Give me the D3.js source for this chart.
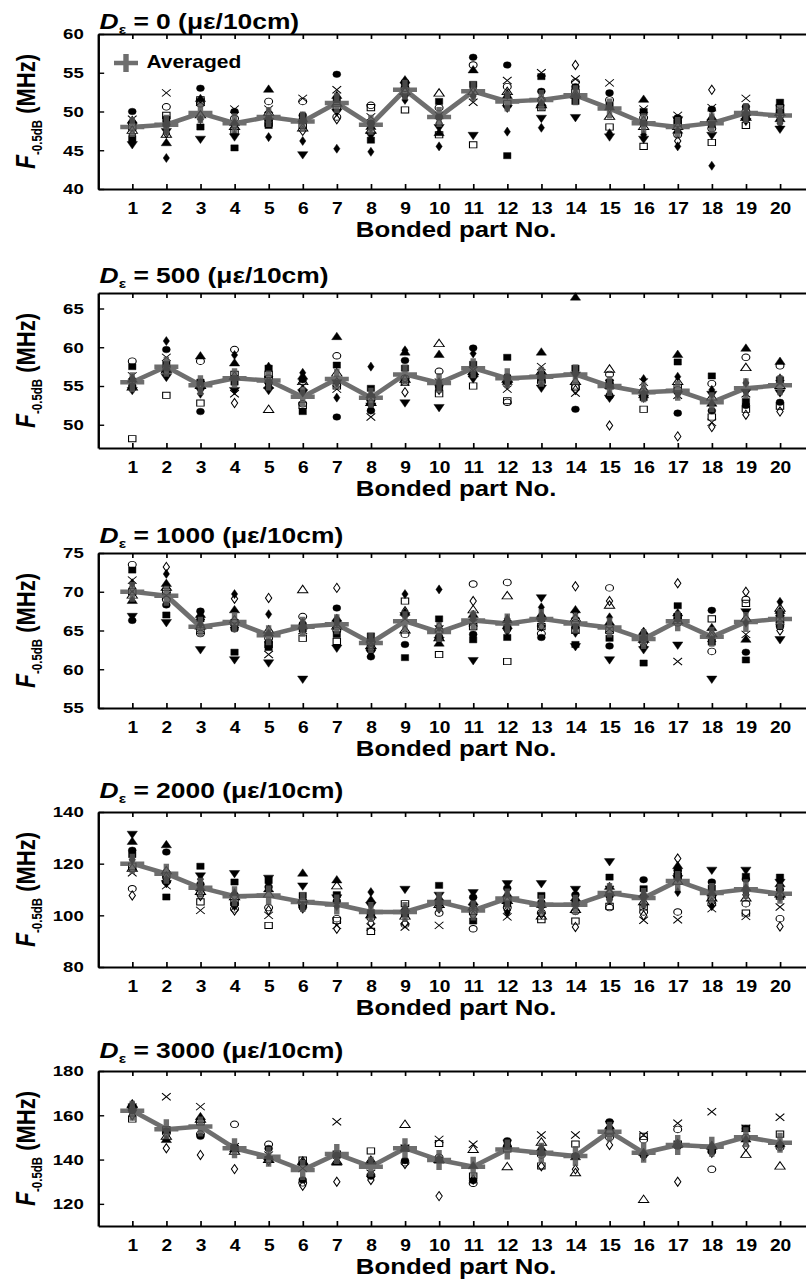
<!DOCTYPE html>
<html>
<head>
<meta charset="utf-8">
<script src="https://cdn.jsdelivr.net/npm/d3@7"></script>
<style>
  html, body { margin: 0; padding: 0; background: #fff; }
  svg { display: block; }
  text { font-family: "Liberation Sans", Arial, sans-serif; font-weight: bold; fill: #000; }
</style>
</head>
<body>
<svg id="chart"></svg>
<script>
// ---- data ----
// bonded part numbers (x categories)
const parts = [1, 2, 3, 4, 5, 6, 7, 8, 9, 10, 11, 12, 13, 14, 15, 16, 17, 18, 19, 20];
// strain level of each panel (με/10cm)
const strains = [0, 500, 1000, 2000, 3000];
// sample marker order of the columns below
const markers = ["filled circle", "open circle", "filled square", "open square", "filled triangle",
                 "open triangle", "filled down triangle", "cross", "filled diamond", "open diamond"];

// y tick labels
const yTicks0 = [40, 45, 50, 55, 60];
const yTicks500 = [50, 55, 60, 65];
const yTicks1000 = [55, 60, 65, 70, 75];
const yTicks2000 = [80, 100, 120, 140];
const yTicks3000 = [120, 140, 160, 180];

// F-0.5dB (MHz), one row per bonded part, columns in `markers` order
const freq0 = [
  [50.0, 48.5, 46.5, 48.0, 48.8, 47.5, 45.8, 49.0, 46.2, 47.0],
  [48.3, 50.6, 49.0, 49.5, 45.9, 47.0, 47.5, 52.4, 44.0, 47.2],
  [53.0, 51.0, 48.0, 51.5, 51.6, 49.5, 46.5, 51.2, 49.0, 49.5],
  [50.0, 49.1, 45.3, 47.5, 48.5, 48.0, 46.8, 50.3, 47.0, 48.2],
  [49.0, 51.3, 48.2, 48.5, 52.8, 49.8, 48.8, 50.3, 46.7, 49.5],
  [49.5, 51.3, 48.8, 48.2, 49.0, 47.8, 44.5, 51.7, 46.2, 47.5],
  [54.8, 49.3, 51.5, 50.5, 52.0, 51.0, 50.0, 52.8, 45.2, 49.0],
  [48.5, 50.8, 46.3, 50.5, 48.0, 47.5, 47.0, 49.3, 44.8, 48.0],
  [53.8, 53.0, 53.5, 50.2, 54.0, 52.5, 52.0, 53.2, 51.5, 52.5],
  [49.3, 50.5, 51.3, 47.0, 47.2, 52.3, 48.0, 49.5, 45.5, 48.5],
  [57.0, 56.0, 53.5, 45.7, 55.3, 52.5, 47.0, 51.2, 52.0, 53.0],
  [56.0, 53.2, 44.3, 51.0, 52.0, 52.5, 50.5, 54.0, 47.4, 52.2],
  [52.6, 51.5, 54.5, 50.5, 51.0, 50.8, 49.2, 55.0, 47.9, 51.5],
  [53.2, 53.8, 51.3, 52.5, 52.0, 52.2, 49.3, 54.2, 51.8, 56.0],
  [52.4, 51.5, 50.8, 48.0, 50.5, 49.3, 46.8, 53.7, 47.2, 50.5],
  [48.5, 49.2, 50.0, 45.5, 51.5, 48.0, 46.5, 50.3, 47.0, 48.8],
  [49.2, 47.0, 48.8, 48.5, 47.5, 48.0, 49.0, 49.5, 45.5, 46.2],
  [50.3, 47.8, 48.3, 46.0, 49.2, 49.0, 47.0, 50.5, 43.0, 52.8],
  [50.6, 50.0, 49.5, 48.2, 49.8, 49.2, 48.8, 51.7, 49.0, 49.5],
  [50.0, 49.5, 51.2, 50.5, 49.0, 49.8, 47.8, 50.3, 48.5, 49.0]
];
const freq500 = [
  [55.0, 58.2, 57.5, 48.2, 55.8, 54.8, 54.5, 56.3, 56.0, 55.5],
  [59.7, 57.5, 57.8, 53.8, 57.2, 57.0, 56.2, 58.7, 60.8, 56.8],
  [51.7, 58.2, 55.5, 52.8, 58.8, 55.0, 54.5, 55.2, 54.0, 55.3],
  [56.0, 59.7, 55.5, 56.5, 57.9, 56.2, 54.5, 54.0, 59.0, 52.8],
  [55.5, 56.0, 57.3, 56.5, 55.0, 51.9, 54.5, 55.8, 57.5, 55.2],
  [55.8, 52.7, 51.7, 52.5, 56.2, 55.5, 54.2, 55.0, 56.7, 54.5],
  [51.0, 58.9, 57.7, 55.0, 61.3, 56.6, 55.5, 54.6, 53.5, 55.5],
  [51.8, 53.2, 54.7, 53.5, 53.8, 52.8, 52.5, 51.0, 57.5, 52.0],
  [58.3, 56.0, 57.3, 55.5, 59.3, 55.8, 52.9, 55.5, 59.6, 54.2],
  [55.0, 56.9, 54.8, 54.0, 59.0, 60.4, 52.3, 55.5, 55.5, 54.5],
  [59.9, 56.5, 57.8, 55.0, 56.5, 56.8, 56.0, 57.0, 59.2, 56.2],
  [56.2, 52.9, 58.7, 53.1, 55.5, 55.8, 55.3, 54.6, 56.0, 55.8],
  [56.5, 55.5, 56.0, 55.8, 59.3, 56.8, 54.8, 57.5, 55.0, 56.3],
  [52.0, 54.8, 57.3, 55.0, 66.4, 55.5, 56.5, 54.1, 56.8, 54.5],
  [53.7, 56.5, 55.5, 55.0, 55.0, 57.1, 53.5, 55.3, 54.0, 49.9],
  [54.0, 54.3, 53.5, 52.0, 53.8, 54.5, 53.5, 55.5, 55.9, 54.0],
  [51.5, 54.5, 58.1, 54.8, 59.0, 55.5, 54.0, 53.8, 56.2, 48.5],
  [51.8, 55.3, 56.3, 51.0, 52.7, 53.5, 54.0, 50.3, 54.5, 49.7],
  [52.5, 58.7, 53.0, 52.0, 59.8, 57.3, 54.3, 54.0, 55.4, 51.3],
  [52.9, 57.6, 55.8, 52.4, 58.1, 55.0, 54.2, 55.3, 56.0, 51.7]
];
const freq1000 = [
  [66.3, 73.5, 72.8, 70.0, 68.8, 69.5, 66.9, 71.5, 71.1, 70.5],
  [68.3, 69.0, 67.0, 70.0, 71.0, 70.5, 66.1, 69.5, 72.3, 73.2],
  [67.5, 64.6, 66.5, 65.0, 67.0, 65.5, 62.6, 66.0, 65.8, 66.5],
  [65.2, 66.0, 62.2, 66.0, 67.6, 66.3, 61.3, 65.8, 69.7, 69.1],
  [63.5, 64.0, 62.8, 63.2, 64.6, 65.0, 60.9, 61.9, 67.1, 69.2],
  [65.8, 66.8, 65.2, 64.0, 65.5, 70.2, 58.8, 65.0, 66.0, 65.3],
  [67.9, 65.0, 64.5, 63.6, 66.5, 65.5, 62.8, 65.8, 66.0, 70.5],
  [61.6, 62.5, 64.3, 63.5, 63.8, 63.0, 62.2, 63.0, 64.0, 62.8],
  [63.2, 64.5, 61.5, 68.8, 67.3, 65.0, 67.0, 66.5, 69.7, 67.5],
  [64.2, 65.0, 66.5, 61.9, 63.3, 64.0, 63.8, 65.2, 70.3, 65.5],
  [64.5, 71.0, 63.8, 65.5, 67.0, 67.6, 61.2, 66.0, 66.5, 68.8],
  [65.5, 71.2, 64.1, 61.0, 66.3, 69.4, 65.0, 65.8, 66.5, 65.0],
  [64.1, 64.6, 66.5, 65.5, 67.0, 66.8, 69.3, 66.0, 68.0, 65.5],
  [65.5, 66.0, 63.2, 65.0, 67.6, 66.5, 63.0, 67.0, 64.7, 70.7],
  [63.0, 70.5, 64.0, 65.0, 66.0, 68.2, 61.3, 65.2, 66.7, 68.8],
  [64.0, 63.5, 60.8, 64.2, 64.8, 63.8, 62.6, 63.3, 64.7, 63.0],
  [66.5, 66.0, 68.2, 66.8, 67.2, 66.2, 63.2, 61.0, 66.5, 71.1],
  [67.6, 62.3, 63.5, 66.5, 65.3, 64.5, 58.8, 64.0, 63.8, 64.2],
  [62.2, 69.0, 61.2, 68.5, 63.8, 66.5, 67.5, 64.5, 66.0, 70.0],
  [65.5, 65.8, 67.0, 66.5, 67.5, 67.8, 63.9, 66.5, 68.7, 65.0]
];
const freq2000 = [
  [125.2, 110.3, 123.5, 119.0, 128.4, 118.0, 131.6, 116.5, 121.5, 107.7],
  [124.5, 113.0, 107.1, 115.5, 127.1, 117.0, 112.5, 111.5, 114.0, 115.0],
  [112.0, 108.5, 119.0, 105.2, 110.5, 109.0, 115.5, 101.9, 114.0, 107.5],
  [104.3, 102.5, 112.9, 105.0, 108.5, 107.0, 116.4, 106.0, 103.5, 101.9],
  [111.0, 103.0, 113.5, 96.1, 110.0, 108.0, 114.6, 100.0, 112.5, 102.0],
  [103.0, 104.0, 107.7, 105.0, 116.1, 106.0, 111.6, 104.5, 102.5, 103.5],
  [105.5, 98.7, 108.0, 98.0, 113.5, 111.2, 107.0, 96.1, 103.5, 94.8],
  [100.5, 99.0, 101.0, 93.8, 105.8, 100.0, 104.0, 95.5, 109.0, 97.0],
  [101.0, 96.5, 100.5, 104.5, 102.5, 99.5, 110.3, 95.5, 101.5, 97.0],
  [104.5, 100.9, 111.6, 105.0, 106.5, 104.0, 108.0, 96.1, 102.5, 103.5],
  [107.0, 94.8, 97.8, 101.5, 105.0, 103.0, 109.0, 102.5, 104.0, 100.0],
  [110.5, 103.0, 104.5, 106.0, 108.0, 105.5, 112.5, 99.4, 101.0, 102.0],
  [105.0, 101.0, 107.7, 98.3, 104.0, 99.5, 112.5, 102.0, 103.5, 100.5],
  [108.0, 101.5, 104.5, 97.8, 106.5, 102.0, 110.3, 103.0, 105.5, 95.5],
  [107.5, 103.0, 114.8, 103.5, 111.0, 108.5, 121.0, 110.0, 106.0, 109.0],
  [113.8, 101.3, 110.3, 103.2, 108.0, 105.0, 106.5, 98.1, 104.0, 100.0],
  [117.5, 101.3, 116.5, 115.0, 119.0, 113.0, 114.5, 98.3, 109.0, 122.0],
  [112.9, 104.5, 110.5, 107.0, 108.5, 106.5, 117.7, 102.6, 103.5, 105.0],
  [114.0, 104.5, 115.1, 100.9, 110.5, 106.5, 117.7, 99.6, 109.0, 108.0],
  [110.0, 98.7, 114.8, 107.4, 112.0, 108.0, 113.0, 103.2, 107.0, 95.7]
];
const freq3000 = [
  [162.0, 163.0, null, 158.3, 165.0, 164.5, null, 163.6, null, 160.0],
  [153.0, 152.0, null, 153.4, 148.8, 150.3, null, 168.4, null, 145.1],
  [150.5, 151.5, null, 157.0, 159.1, 158.0, null, 163.9, null, 142.1],
  [145.5, 155.9, null, 145.0, 144.5, 143.5, null, 145.8, null, 135.7],
  [145.0, 146.9, null, 140.0, 141.0, 139.8, null, 142.0, null, 139.5],
  [130.8, 129.5, null, 139.8, 138.6, 139.0, null, 136.0, null, 128.2],
  [142.0, 141.5, null, 142.5, 138.5, 139.0, null, 157.1, null, 130.0],
  [132.5, 133.0, null, 143.9, 139.0, 139.4, null, 133.8, null, 130.8],
  [139.5, 138.6, null, 145.1, 145.0, 155.6, null, 145.1, null, 138.0],
  [140.0, 141.0, null, 147.3, 139.5, 139.8, null, 149.1, null, 123.5],
  [130.5, 129.3, null, 132.6, 137.0, 144.3, null, 146.9, null, 131.0],
  [148.5, 146.0, null, 144.8, 146.0, 136.5, null, 147.3, null, 147.0],
  [143.0, 142.1, null, 137.1, 145.0, 147.6, null, 151.1, null, 137.0],
  [141.5, 141.6, null, 147.0, 141.0, 133.8, null, 151.1, null, 135.6],
  [157.1, 150.0, null, 152.0, 154.8, 153.0, null, 155.8, null, 146.6],
  [142.0, 149.0, null, 150.5, 143.0, 121.7, null, 151.1, null, 141.6],
  [146.0, 153.6, null, 147.0, 146.5, 147.0, null, 156.4, null, 130.0],
  [143.5, 135.6, null, 144.5, 145.8, 146.0, null, 161.6, null, 143.1],
  [154.0, 150.0, null, 154.1, 149.0, 142.1, null, 154.1, null, 146.1],
  [146.6, 145.5, null, 151.5, 147.0, 136.8, null, 159.1, null, 146.0]
];

// averaged F-0.5dB per bonded part
const avg0 = [48.0, 48.3, 49.8, 48.5, 49.3, 48.7, 51.1, 48.3, 52.8, 49.3, 52.6, 51.3, 51.5, 52.1, 50.4, 48.5, 48.0, 48.5, 49.8, 49.5];
const avg500 = [55.5, 57.5, 55.1, 56.0, 55.7, 53.6, 55.9, 53.5, 56.5, 55.4, 57.3, 56.0, 56.2, 56.5, 55.0, 54.2, 54.4, 52.9, 54.7, 55.1];
const avg1000 = [70.0, 69.5, 65.5, 66.1, 64.4, 65.5, 65.8, 63.4, 66.2, 64.8, 66.3, 65.9, 66.5, 65.9, 65.4, 63.9, 66.2, 64.2, 66.1, 66.5];
const avg2000 = [120.0, 116.1, 110.7, 107.4, 107.7, 105.2, 104.2, 101.3, 101.3, 105.2, 101.9, 106.5, 104.1, 104.1, 108.6, 106.7, 113.3, 108.6, 110.1, 108.4];
const avg3000 = [162.1, 153.7, 154.9, 145.1, 141.3, 135.3, 142.5, 136.8, 145.1, 139.8, 136.8, 144.6, 143.1, 141.6, 152.6, 143.1, 146.6, 145.8, 150.1, 147.6];

// ---- layout ----
const svgSize = { width: 806, height: 1280 };
const stretch = 1.2;               // the source figure is drawn wider than tall
const innerW = svgSize.width / stretch;
const plotH = 155;

// one entry per panel (layout + which arrays to use)
const panels = [
  { strain: strains[0], rows: freq0,    avg: avg0,    domain: [40, 60],   ticks: yTicks0,    top: 34,   titleGap: 5 },
  { strain: strains[1], rows: freq500,  avg: avg500,  domain: [47, 67],   ticks: yTicks500,  top: 293,  titleGap: 10 },
  { strain: strains[2], rows: freq1000, avg: avg1000, domain: [55, 75],   ticks: yTicks1000, top: 553,  titleGap: 9.5 },
  { strain: strains[3], rows: freq2000, avg: avg2000, domain: [80, 140],  ticks: yTicks2000, top: 812,  titleGap: 13.5 },
  { strain: strains[4], rows: freq3000, avg: avg3000, domain: [110, 180], ticks: yTicks3000, top: 1071, titleGap: 13 }
];

var svg = d3.select("#chart")
  .attr("width", svgSize.width)
  .attr("height", svgSize.height)
  .attr("viewBox", `0 0 ${innerW} ${svgSize.height}`)
  .attr("preserveAspectRatio", "none");

var x = d3.scaleLinear().domain([0, 21]).range([81.8, 678.4]);

// cross symbol (fallback if this d3 build lacks symbolTimes)
const timesType = d3.symbolTimes || d3.symbolX || {
  draw(ctx, size) {
    const r = Math.sqrt(size) * 0.6;
    ctx.moveTo(-r, -r); ctx.lineTo(r, r);
    ctx.moveTo(r, -r); ctx.lineTo(-r, r);
  }
};

const shapes = [
  { type: d3.symbolCircle,   size: 34, filled: true },
  { type: d3.symbolCircle,   size: 34, filled: false },
  { type: d3.symbolSquare,   size: 38, filled: true },
  { type: d3.symbolSquare,   size: 38, filled: false },
  { type: d3.symbolTriangle, size: 32, filled: true },
  { type: d3.symbolTriangle, size: 32, filled: false },
  { type: d3.symbolTriangle, size: 32, filled: true, flip: true },
  { type: timesType,         size: 36, filled: false },
  { type: d3.symbolDiamond,  size: 24, filled: true },
  { type: d3.symbolDiamond,  size: 24, filled: false }
];

const avgColor = "#555";

panels.forEach((p, k) => {
  var bottom = p.top + plotH;
  var y = d3.scaleLinear().domain(p.domain).range([bottom, p.top]);
  var g = svg.append("g").attr("class", "panel");

  // axes (ticks pointing inward)
  var xAxisB = d3.axisBottom(x).tickValues(parts).tickSize(-5).tickSizeOuter(0).tickPadding(13.6);
  var xAxisT = d3.axisTop(x).tickValues(parts).tickSize(-5).tickSizeOuter(0).tickFormat("");
  var yAxis = d3.axisLeft(y).tickValues(p.ticks).tickSize(-5).tickSizeOuter(0).tickPadding(12);

  var gb = g.append("g").attr("transform", `translate(0,${bottom})`).call(xAxisB);
  var gt = g.append("g").attr("transform", `translate(0,${p.top})`).call(xAxisT);
  var gl = g.append("g").attr("transform", `translate(${x(0)},0)`).call(yAxis);

  [gb, gt, gl].forEach(a => {
    a.select(".domain").attr("stroke", "#000").attr("stroke-width", 2);
    a.selectAll(".tick line").attr("stroke", "#000").attr("stroke-width", 1.4);
    a.selectAll("text").attr("font-size", 16).attr("font-family", null).attr("fill", "#000");
  });
  gl.selectAll("text").attr("font-size", 15.5);

  // scatter of every sample
  var pts = [];
  p.rows.forEach((row, i) => {
    row.forEach((v, j) => {
      if (v != null) pts.push({ part: parts[i], value: v, shape: shapes[j] });
    });
  });

  g.append("g").selectAll("path")
    .data(pts)
    .enter().append("path")
    .attr("d", d => d3.symbol().type(d.shape.type).size(d.shape.size)())
    .attr("transform", d => `translate(${x(d.part)},${y(d.value)})` + (d.shape.flip ? " rotate(180)" : ""))
    .attr("fill", d => d.shape.filled ? "#000" : "none")
    .attr("stroke", "#000")
    .attr("stroke-width", d => d.shape.filled ? 0.4 : 0.9);

  // averaged line with + markers
  var ag = g.append("g").attr("opacity", 0.85);
  var line = d3.line().x((d, i) => x(parts[i])).y(d => y(d));
  ag.append("path")
    .datum(p.avg)
    .attr("d", line)
    .attr("fill", "none")
    .attr("stroke", avgColor)
    .attr("stroke-width", 4.5)
    .attr("stroke-linejoin", "round");
  ag.selectAll(".plus")
    .data(p.avg)
    .enter().append("path")
    .attr("class", "plus")
    .attr("d", (d, i) => `M${x(parts[i]) - 10},${y(d)}H${x(parts[i]) + 10}M${x(parts[i])},${y(d) - 10}V${y(d) + 10}`)
    .attr("stroke", avgColor)
    .attr("stroke-width", 4.5)
    .attr("fill", "none");

  // panel title
  var t = g.append("text").attr("x", 83).attr("y", p.top - p.titleGap).attr("font-size", 22);
  t.append("tspan").attr("font-style", "italic").text("D");
  t.append("tspan").attr("font-size", 13).attr("dy", 5).text("ε");
  t.append("tspan").attr("dy", -5).text(` = ${p.strain} (με/10cm)`);

  // y axis title
  var yt = g.append("text")
    .attr("transform", `translate(29,${p.top + plotH / 2}) rotate(-90)`)
    .attr("text-anchor", "middle")
    .attr("font-size", 22);
  yt.append("tspan").attr("font-style", "italic").attr("font-size", 23).text("F");
  yt.append("tspan").attr("font-size", 11.5).attr("dy", 6).text("-0.5dB");
  yt.append("tspan").attr("dy", -6).text(" (MHz)");

  // x axis title
  g.append("text")
    .attr("x", (x(0) + x(21)) / 2)
    .attr("y", bottom + 48)
    .attr("text-anchor", "middle")
    .attr("font-size", 21.5)
    .text("Bonded part No.");

  // legend (first panel only)
  if (k === 0) {
    var lg = g.append("g").attr("opacity", 0.85);
    lg.append("path")
      .attr("d", "M95,63H115M105,54V72")
      .attr("stroke", avgColor)
      .attr("stroke-width", 4.5);
    g.append("text").attr("x", 122).attr("y", 68.5).attr("font-size", 17.5).text("Averaged");
  }
});
</script>
</body>
</html>
